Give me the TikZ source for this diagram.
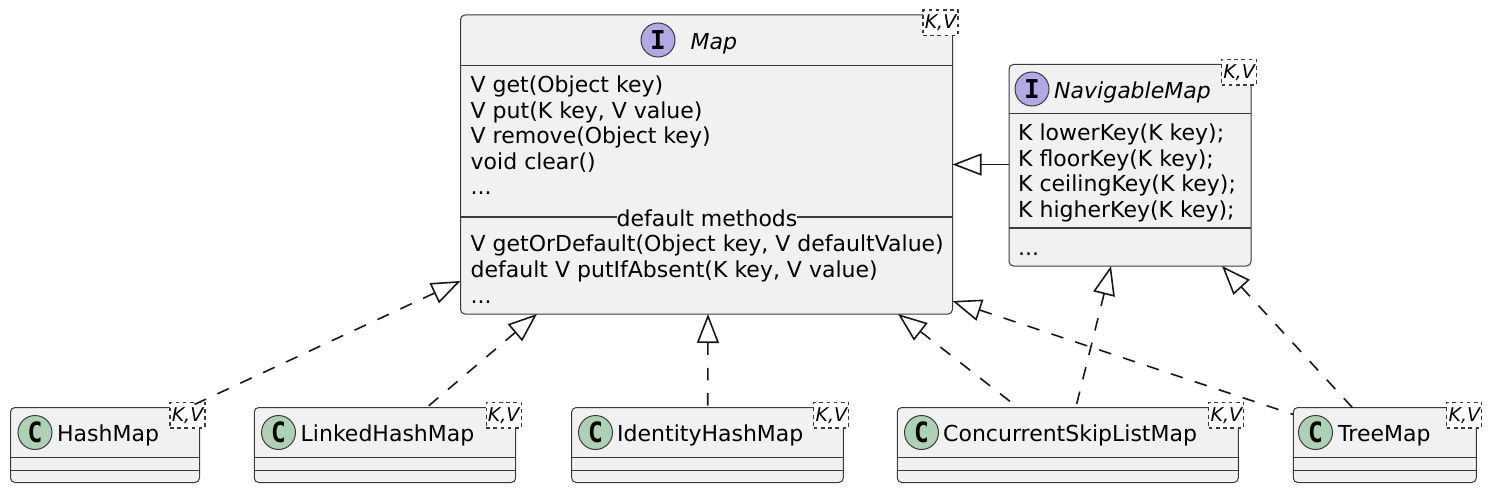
\documentclass[tikz,border=0pt]{standalone}
\usepackage{fontspec}
\setmainfont{DejaVu Sans}
\newfontfamily\ifacefont{DejaVu Sans Mono}
\newfontfamily\classfont{DejaVu Sans Mono}[FakeStretch=0.88]
\usetikzlibrary{arrows.meta,positioning}
\definecolor{boxfill}{HTML}{F1F1F1}
\definecolor{boxline}{HTML}{3A3A3A}
\definecolor{arrowline}{HTML}{181818}
\definecolor{ifacefill}{HTML}{B4A7E5}
\definecolor{classfill}{HTML}{ADD1B2}

\begin{document}
\begin{tikzpicture}[auto]
\tikzstyle{classbox} = [rectangle, draw=boxline, fill=boxfill, line width=1pt, rounded corners=4.5pt, inner sep=0pt, outer sep=0pt, anchor=north west]
\tikzstyle{kvbox} = [rectangle, draw=boxline, fill=white, line width=1.1pt, dash pattern=on 3.6pt off 3.6pt, inner sep=0pt, outer sep=0pt, minimum width=35pt, minimum height=25.5pt, anchor=north east, font=\fontsize{19}{19}\selectfont\itshape]
\tikzstyle{ifacebadge} = [circle, draw=boxline, fill=ifacefill, line width=1pt, inner sep=0pt, minimum size=34pt, font=\ifacefont\bfseries\fontsize{26}{26}\selectfont]
\tikzstyle{classbadge} = [circle, draw=boxline, fill=classfill, line width=1pt, inner sep=0pt, minimum size=34pt, font=\classfont\bfseries\fontsize{28}{28}\selectfont]
\tikzstyle{title} = [inner sep=0pt, anchor=base west, font=\fontsize{22}{22}\selectfont]
\tikzstyle{members} = [inner sep=0pt, anchor=north west, align=left, font=\fontsize{22}{25.6}\selectfont]
\tikzstyle{divider} = [boxline, line width=1pt]
\tikzstyle{realize} = [arrowline, line width=1.6pt, dash pattern=on 12.6pt off 12.6pt, {Triangle[open, length=29pt, width=22pt, line width=1.6pt]}-]
\tikzstyle{extend} = [arrowline, line width=1.6pt, {Triangle[open, length=29pt, width=22pt, line width=1.6pt]}-]
\useasboundingbox (0,0) rectangle (1492pt,-492pt);
% interfaces
\node [classbox, minimum width=492pt, minimum height=299pt] (map) at (460.5pt,-15pt) {};
\node [classbox, minimum width=242pt, minimum height=201.5pt, right=56.5pt of map.north east, anchor=north west, yshift=-49.5pt] (navmap) {};
% bottom row
\node [classbox, minimum width=189pt, minimum height=75pt] (hashmap) at (10.5pt,-407.5pt) {};
\node [classbox, minimum width=261.4pt, minimum height=75pt, right=54.8pt of hashmap.north east, anchor=north west] (linkedmap) {};
\node [classbox, minimum width=271.6pt, minimum height=75pt, right=56pt of linkedmap.north east, anchor=north west] (identitymap) {};
\node [classbox, minimum width=341pt, minimum height=75pt, right=54pt of identitymap.north east, anchor=north west] (skipmap) {};
\node [classbox, minimum width=183pt, minimum height=75pt, right=55pt of skipmap.north east, anchor=north west] (treemap) {};
% dividers
\draw [divider] ([yshift=-50.5pt]map.north west) -- ([yshift=-50.5pt]map.north east);
\draw [divider, line width=1.4pt] ([yshift=-202pt]map.north west) -- ([yshift=-202pt]map.north east);
\draw [divider] ([yshift=-49.5pt]navmap.north west) -- ([yshift=-49.5pt]navmap.north east);
\draw [divider, line width=1.4pt] ([yshift=-163.5pt]navmap.north west) -- ([yshift=-163.5pt]navmap.north east);
\foreach \cname in {hashmap,linkedmap,identitymap,skipmap,treemap} {
  \draw [divider] ([yshift=-49.5pt]\cname.north west) -- ([yshift=-49.5pt]\cname.north east);
  \draw [divider] ([yshift=-62.5pt]\cname.north west) -- ([yshift=-62.5pt]\cname.north east);
}
% badges
\node [ifacebadge] (mapbadge) at (658pt,-40pt) {I};
\node [ifacebadge] (navbadge) at (1032pt,-89pt) {I};
\node [classbadge] (hashbadge) at (35pt,-432.5pt) {C};
\node [classbadge] (linkedbadge) at (278.5pt,-432.5pt) {C};
\node [classbadge] (identitybadge) at (595.5pt,-432.5pt) {C};
\node [classbadge] (skipbadge) at (921.5pt,-432.5pt) {C};
\node [classbadge] (treebadge) at (1315.5pt,-432.5pt) {C};
% titles
\node [title, font=\fontsize{22}{22}\selectfont\itshape] (maptitle) at (690.5pt,-49.5pt) {Map};
\node [title, font=\fontsize{22}{22}\selectfont\itshape] (navtitle) at (1054pt,-99pt) {NavigableMap};
\node [title] (hashtitle) at (57pt,-441pt) {HashMap};
\node [title] (linkedtitle) at (300.5pt,-441pt) {LinkedHashMap};
\node [title] (identitytitle) at (617pt,-441pt) {IdentityHashMap};
\node [title] (skiptitle) at (943pt,-441pt) {ConcurrentSkipListMap};
\node [title] (treetitle) at (1338pt,-441pt) {TreeMap};
% members
\node [members] (mapbody) at (470.5pt,-75.5pt) {V get(Object key)\\V put(K key, V value)\\V remove(Object key)\\void clear()\\...};
\node [members] (mapdefaults) at (470.5pt,-235pt) {V getOrDefault(Object key, V defaultValue)\\default V putIfAbsent(K key, V value)\\...};
\node [inner sep=0pt, fill=boxfill, font=\fontsize{22}{22}\selectfont] (mapsection) at (707pt,-218pt) {default methods};
\node [members] (navbody) at (1018pt,-123.5pt) {K lowerKey(K key);\\K floorKey(K key);\\K ceilingKey(K key);\\K higherKey(K key);};
\node [members] (navrest) at (1018pt,-253pt) {...};
% stereotypes
\node [kvbox] (mapkv) at ([xshift=5.5pt,yshift=5pt]map.north east) {K,V};
\node [kvbox] (navkv) at ([xshift=5.5pt,yshift=5pt]navmap.north east) {K,V};
\node [kvbox] (hashkv) at ([xshift=5.5pt,yshift=5pt]hashmap.north east) {K,V};
\node [kvbox] (linkedkv) at ([xshift=5.5pt,yshift=5pt]linkedmap.north east) {K,V};
\node [kvbox] (identitykv) at ([xshift=5.5pt,yshift=5pt]identitymap.north east) {K,V};
\node [kvbox] (skipkv) at ([xshift=5.5pt,yshift=5pt]skipmap.north east) {K,V};
\node [kvbox] (treekv) at ([xshift=5.5pt,yshift=5pt]treemap.north east) {K,V};
% relations
\path (map.east) edge [extend] ([yshift=0.75pt]navmap.west);
\path ([yshift=33pt]map.south west) edge [realize] ([xshift=-11.5pt]hashmap.north east);
\path ([xshift=76.5pt]map.south west) edge [realize] ([xshift=-89pt]linkedmap.north east);
\path ([xshift=247.5pt]map.south west) edge [realize] ([xshift=136pt]identitymap.north west);
\path ([xshift=-54.5pt]map.south east) edge [realize] ([xshift=120.5pt]skipmap.north west);
\path ([xshift=102pt]navmap.south west) edge [realize] ([xshift=178.5pt]skipmap.north west);
\path ([yshift=13pt]map.south east) edge [realize] ([yshift=-7pt]treemap.north west);
\path ([xshift=-29pt]navmap.south east) edge [realize] ([xshift=59pt]treemap.north west);
\end{tikzpicture}
\end{document}
